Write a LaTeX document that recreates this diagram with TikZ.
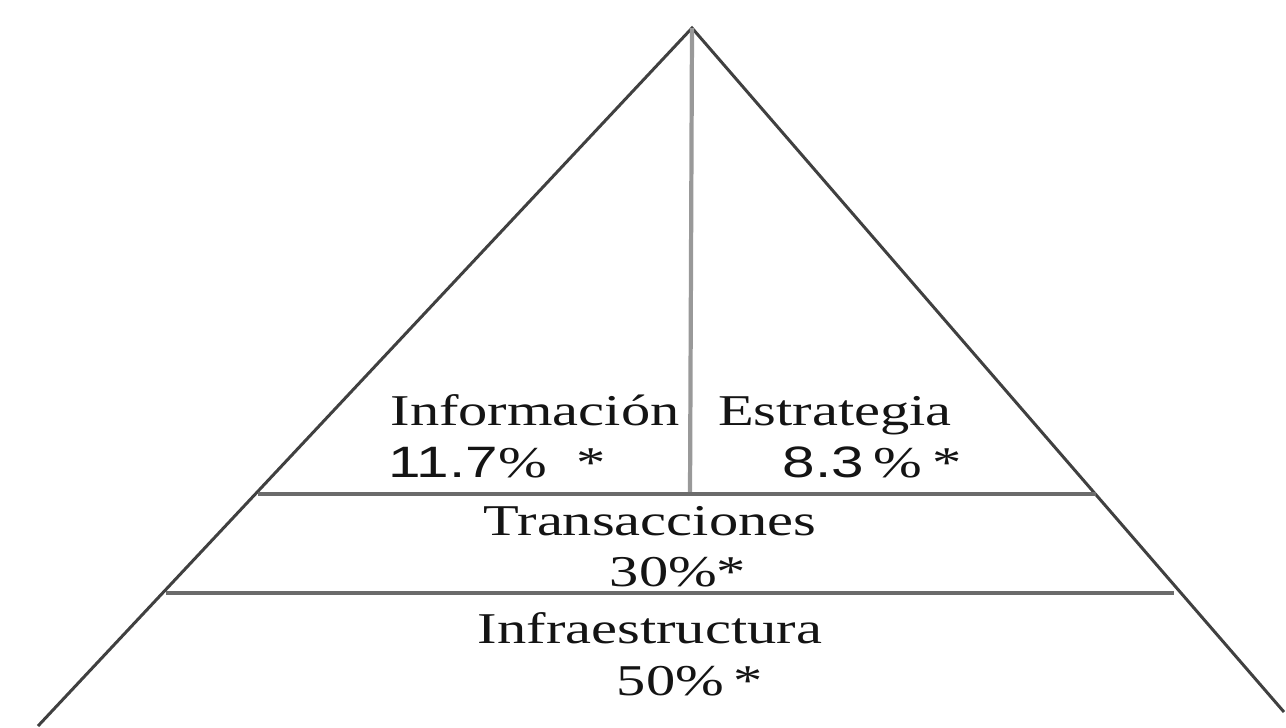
\documentclass[tikz,border=0pt]{standalone}
\usepackage{graphicx}
\usepackage{fontspec}
\setmainfont{Liberation Serif}
\newfontfamily\numfont{Liberation Sans}
\usetikzlibrary{positioning}
\newcommand{\widetext}[1]{\scalebox{1.33}[1]{#1}}

\begin{document}
\begin{tikzpicture}[x=0.01cm,y=-0.01cm,
    side/.style={line width=0.85pt, draw=black!75},
    tier/.style={line width=1pt, draw=black!58},
    split/.style={line width=1.2pt, draw=black!40},
    label/.style={anchor=base, inner sep=0pt, text=black!92,
                  font=\fontsize{12.5}{15}\selectfont}]
  \useasboundingbox (0,0) rectangle (1286,727);
  % Pyramid outline
  \coordinate (apex) at (692,28);
  \coordinate (baseL) at (38,726);
  \coordinate (baseR) at (1284,712);
  \draw[side] (baseL) -- (apex) -- (baseR);
  % Tiers
  \coordinate (tierAL) at (258,494);
  \coordinate (tierAR) at (1096,494);
  \coordinate (tierBL) at (166,593);
  \coordinate (tierBR) at (1174,593);
  \coordinate (splitB) at (690,494);
  \draw[split] (apex) -- (splitB);
  \draw[tier] (tierAL) -- (tierAR);
  \draw[tier] (tierBL) -- (tierBR);
  % Labels
  \node[label] (info) at (535,425) {\widetext{Información}};
  \node[label] (infoPct) at (497,477) {\widetext{{\numfont 11.7}\% \ *}};
  \node[label] (estr) at (835,425) {\widetext{Estrategia}};
  \node[label] (estrPct) at (872,477) {\widetext{{\numfont 8.3}\,\%\,*}};
  \node[label] (trans) at (650,535) {\widetext{Transacciones}};
  \node[label] (transPct) at (678,586) {\widetext{30\%*}};
  \node[label] (infra) at (650,643) {\widetext{Infraestructura}};
  \node[label] (infraPct) at (690,695) {\widetext{50\%\,*}};
\end{tikzpicture}
\end{document}
